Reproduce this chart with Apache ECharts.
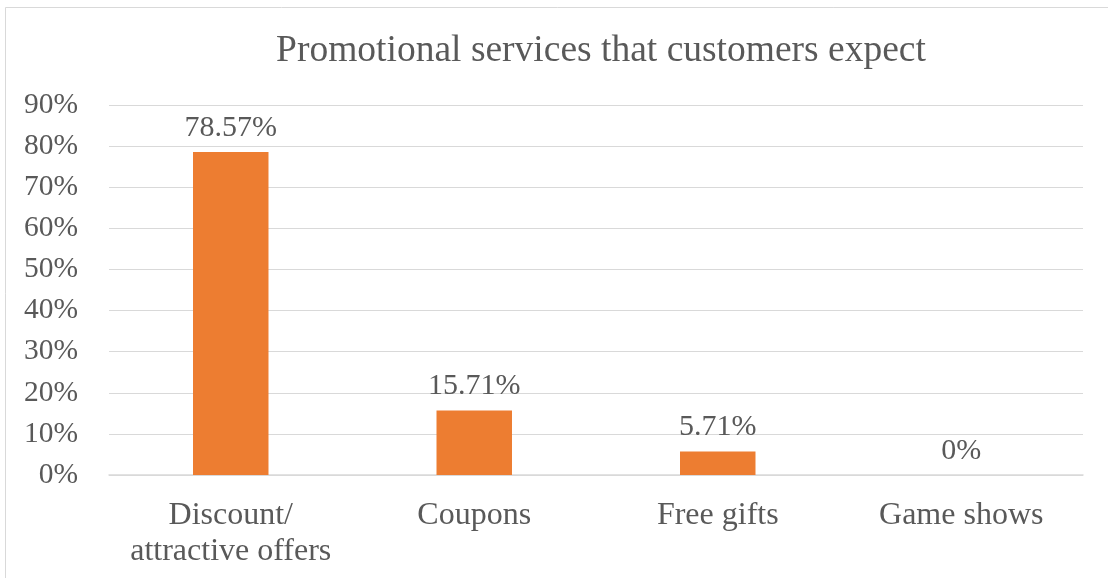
<!DOCTYPE html>
<html>
<head>
<meta charset="utf-8">
<script src="https://cdn.jsdelivr.net/npm/echarts@6/dist/echarts.min.js"></script>
<style>
  html, body { margin: 0; padding: 0; background: #ffffff; }
  #chart { width: 1108px; height: 578px; }
</style>
</head>
<body>
<div id="chart"></div>
<script>
// Share of customers expecting each promotional service (%)
const categories = ['Discount/\nattractive offers', 'Coupons', 'Free gifts', 'Game shows'];
const shares = [78.57, 15.71, 5.71, 0];
const yTicks = { min: 0, max: 90, step: 10 };

const FONT = '"Liberation Serif", "Times New Roman", serif';
const TEXT = '#595959';

const chart = echarts.init(document.getElementById('chart'), null, { renderer: 'canvas' });
chart.setOption({
  backgroundColor: '#ffffff',
  animation: false,
  graphic: [{
    type: 'rect',
    shape: { x: 5.5, y: 7.5, width: 1200, height: 700 },
    style: { fill: 'none', stroke: '#d9d9d9', lineWidth: 1 },
    silent: true
  }],
  title: {
    text: 'Promotional services that customers expect',
    left: 596,
    textAlign: 'center',
    top: 27,
    textStyle: { fontFamily: FONT, fontSize: 37.5, fontWeight: 'normal', color: TEXT }
  },
  grid: { left: 109, right: 25, top: 105, bottom: 103, containLabel: false },
  xAxis: {
    type: 'category',
    data: categories,
    axisLine: { lineStyle: { color: '#d9d9d9', width: 1.5 } },
    axisTick: { show: false },
    axisLabel: {
      interval: 0,
      hideOverlap: false,
      margin: 23,
      fontFamily: FONT, fontSize: 32, color: TEXT, lineHeight: 36
    }
  },
  yAxis: {
    type: 'value',
    min: yTicks.min, max: yTicks.max, interval: yTicks.step,
    axisLine: { show: false },
    axisTick: { show: false },
    splitLine: { lineStyle: { color: '#d9d9d9', width: 1 } },
    axisLabel: {
      margin: 31,
      formatter: v => v + '%',
      fontFamily: FONT, fontSize: 29.5, color: TEXT
    }
  },
  series: [{
    type: 'bar',
    data: shares,
    barWidth: '31%',
    itemStyle: { color: '#ed7d31' },
    label: {
      show: true,
      position: 'top',
      distance: 9,
      formatter: p => p.value + '%',
      fontFamily: FONT, fontSize: 30, color: TEXT
    }
  }]
});
</script>
</body>
</html>
